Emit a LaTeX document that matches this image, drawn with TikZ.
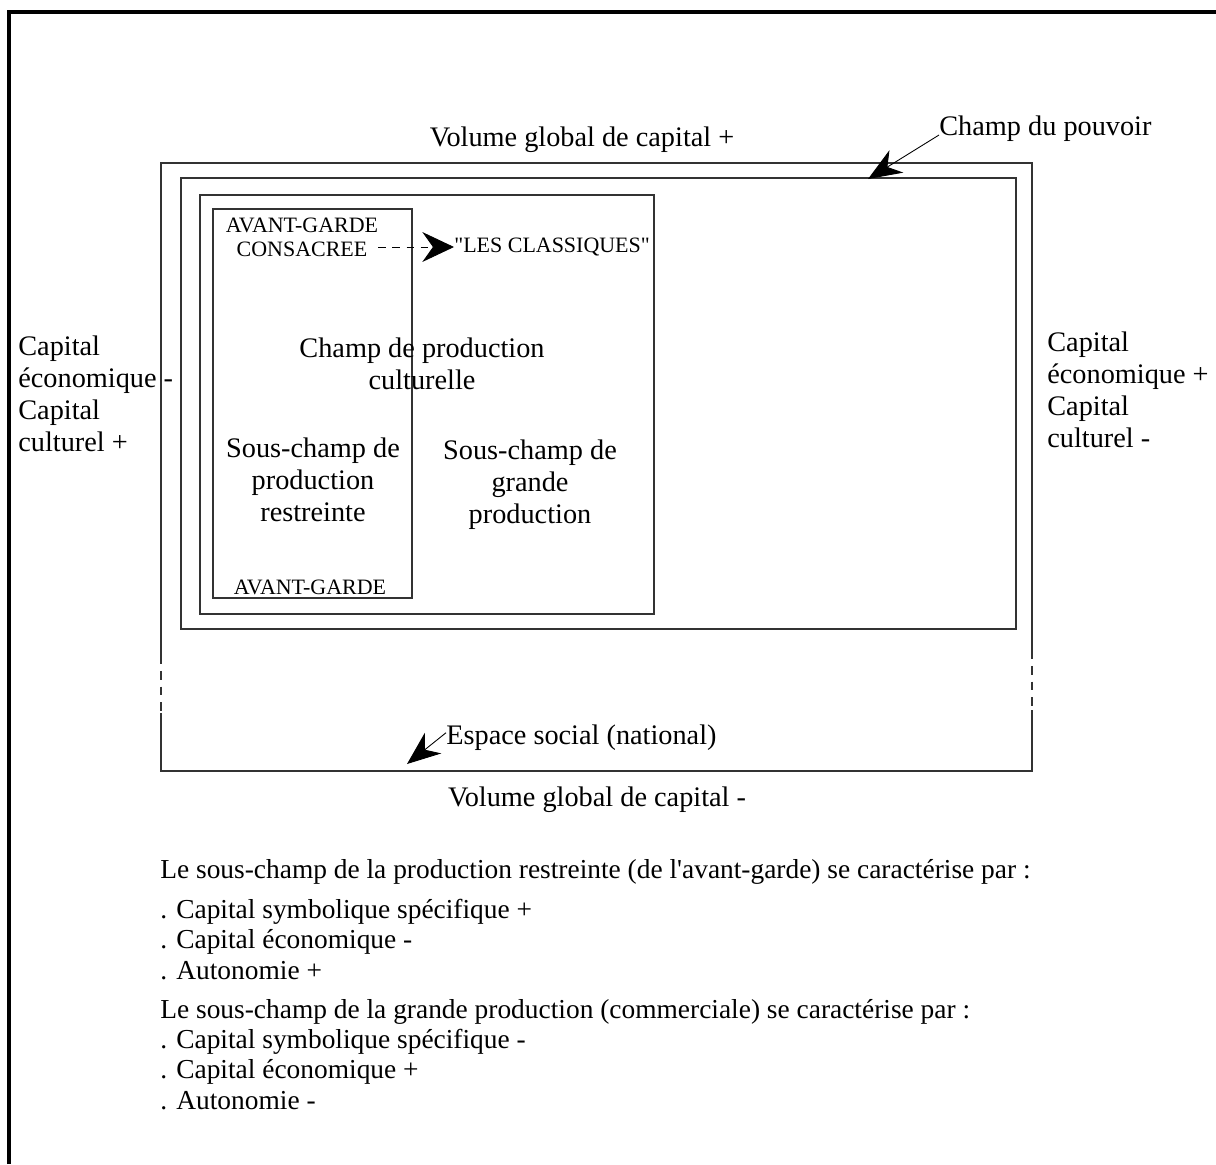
\documentclass[tikz,border=0pt]{standalone}
\usepackage{fontspec}
\setmainfont{Liberation Serif}
\usetikzlibrary{arrows.meta}
\begin{document}
\begin{tikzpicture}[x=0.02cm, y=-0.02cm,
  lbl/.style={inner sep=0pt, font=\fontsize{16.1pt}{18.2pt}\selectfont, align=center},
  lblleft/.style={lbl, align=left},
  caps/.style={inner sep=0pt, font=\fontsize{12.5pt}{13.7pt}\selectfont, align=center},
  notes/.style={inner sep=0pt, font=\fontsize{15.6pt}{17.1pt}\selectfont, align=left},
  box/.style={draw=black!80, line width=0.7pt},
  framestyle/.style={line width=1.8pt},
  pointer/.style={line width=0.5pt, -{Stealth[length=19pt,width=15pt,inset=6pt]}},
]
\useasboundingbox (0,0) rectangle (1216,1164);

% page frame (top and left edges)
\draw[framestyle] (9,1164) -- (9,12) -- (1216,12);

% social space, sides interrupted by a dashed stretch
\draw[box] (161,655) -- (161,163) -- (1032,163) -- (1032,650);
\draw[box] (1032,710) -- (1032,771) -- (161,771) -- (161,713);
\draw[box, dash pattern=on 5pt off 4pt] (161,655) -- (161,713);
\draw[box, dash pattern=on 5pt off 4pt] (1032,650) -- (1032,710);

% field of power, field of cultural production, restricted sub-field
\draw[box] (181,178) rectangle (1016,629);
\draw[box] (200,195) rectangle (654,614);
\draw[box] (213,209) rectangle (412,598);

% axis labels
\node[lbl] (voltop) at (582,140) {Volume global de capital +};
\node[lbl] (volbot) at (597,800) {Volume global de capital -};
\node[lblleft, anchor=west] (capleft) at (18,394)
  {Capital\\ économique -\\ Capital\\ culturel +};
\node[lblleft, anchor=west] (capright) at (1047,390)
  {Capital\\ économique +\\ Capital\\ culturel -};

% field names
\node[lbl, anchor=base west] (pouvoir) at (939,135) {Champ du pouvoir};
\node[lbl, anchor=west] (espace) at (446,738) {Espace social (national)};
\node[lbl] (cultprod) at (422,364) {Champ de production\\ culturelle};
\node[lbl] (restreinte) at (313,480) {Sous-champ de\\ production\\ restreinte};
\node[lbl] (grande) at (530,485) {Sous-champ de\\ grande\\ production};

% avant-garde labels
\node[caps] (consacree) at (302,237) {AVANT-GARDE\\ CONSACREE};
\node[caps, anchor=west] (classiques) at (454,247) {\textquotedbl LES CLASSIQUES\textquotedbl};
\node[caps] (avantgarde) at (310,587) {AVANT-GARDE};

% pointers
\coordinate (pouvoirtip) at (868,179);
\coordinate (espacetip) at (407,764);
\draw[pointer] (pouvoir.base west) -- (pouvoirtip);
\draw[pointer] ([yshift=3pt]espace.west) -- (espacetip);
\draw[line width=0.5pt, dash pattern=on 4.5pt off 3.5pt,
      -{Stealth[length=18pt,width=17pt,inset=6pt]}]
  (consacree.east |- classiques.west) -- (classiques.west);

% characteristics of the two sub-fields (anchored on the last line)
\node[notes, anchor=base west] (restrnotes) at (160,979)
  {Le sous-champ de la production restreinte (de l\textquotesingle avant-garde) se caractérise par :\\[5.7pt]
   . Capital symbolique spécifique +\\
   . Capital économique -\\
   . Autonomie +};
\node[notes, anchor=base west] (grandenotes) at (160,1109)
  {Le sous-champ de la grande production (commerciale) se caractérise par :\\
   . Capital symbolique spécifique -\\
   . Capital économique +\\
   . Autonomie -};
\end{tikzpicture}
\end{document}
